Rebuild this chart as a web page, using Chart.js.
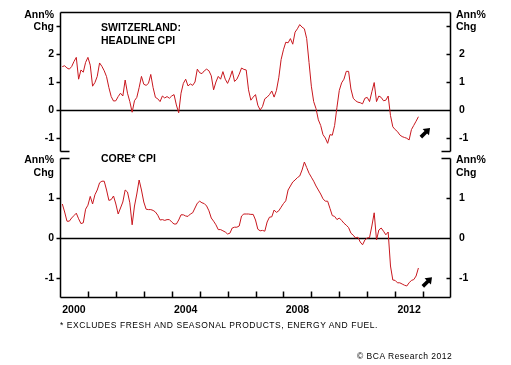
<!DOCTYPE html>
<html>
<head>
<meta charset="utf-8">
<script src="https://cdn.jsdelivr.net/npm/chart.js@4.4.0/dist/chart.umd.min.js"></script>
<style>
  body { margin: 0; width: 511px; height: 365px; background: #fff; position: relative; overflow: hidden;
         font-family: "Liberation Sans", Arial, sans-serif; color: #000; }
  .wrap { position: absolute; left: 0; width: 511px; }
  #topWrap { top: 0; height: 155px; }
  #botWrap { top: 155px; height: 210px; }
  .lbl { position: absolute; font-weight: bold; font-size: 10.5px; line-height: 12px; white-space: nowrap; }
  .l { right: 457px; text-align: right; }
  .r { left: 456px; }
  .note { position: absolute; font-size: 8.5px; line-height: 10px; white-space: nowrap; }
</style>
</head>
<body>
<div class="wrap" id="topWrap"><canvas id="topChart"></canvas></div>
<div class="wrap" id="botWrap"><canvas id="coreChart"></canvas></div>

<div class="lbl l" style="top:8px">Ann%</div>
<div class="lbl l" style="top:19.5px">Chg</div>
<div class="lbl r" style="top:8px">Ann%</div>
<div class="lbl r" style="top:19.5px">Chg</div>
<div class="lbl" style="left:101px;top:20.5px">SWITZERLAND:</div>
<div class="lbl" style="left:101px;top:34px">HEADLINE CPI</div>

<div class="lbl l" style="top:153px">Ann%</div>
<div class="lbl l" style="top:165.5px">Chg</div>
<div class="lbl r" style="top:153px">Ann%</div>
<div class="lbl r" style="top:165.5px">Chg</div>
<div class="lbl" style="left:101px;top:152px">CORE* CPI</div>

<div class="note" style="left:60px;top:319.5px;letter-spacing:0.55px">* EXCLUDES FRESH AND SEASONAL PRODUCTS, ENERGY AND FUEL.</div>
<div class="note" style="left:357px;top:350.5px;letter-spacing:0.5px">© BCA Research 2012</div>

<script>
// monthly, Jan 2000 .. Oct 2012, annual % change
const headline = [
  1.55, 1.58, 1.5, 1.46, 1.55, 1.73, 1.88, 1.1, 1.43, 1.35, 1.7, 1.88,
  1.6, 0.85, 0.98, 1.2, 1.68, 1.56, 1.4, 1.19, 0.8, 0.48, 0.32, 0.33,
  0.48, 0.6, 0.5, 1.07, 0.6, 0.3, -0.08, 0.33, 0.45, 0.8, 1.2, 0.92,
  0.88, 0.95, 1.27, 0.8, 0.45, 0.4, 0.3, 0.5, 0.43, 0.48, 0.42, 0.5,
  0.55, 0.18, -0.1, 0.6, 0.95, 1.1, 0.86, 0.93, 0.88, 1.0, 1.46, 1.33,
  1.3, 1.4, 1.46, 1.4, 1.22, 0.72, 1.0, 1.2, 1.1, 1.37, 1.1, 0.95,
  1.15, 1.4, 1.02, 1.1, 1.28, 1.5, 1.45, 1.43, 0.72, 0.35, 0.46, 0.55,
  0.17, 0.0, 0.12, 0.4, 0.46, 0.55, 0.68, 0.46, 0.7, 1.15, 1.8, 2.15,
  2.42, 2.4, 2.55, 2.35, 2.78, 2.9, 3.05, 2.96, 2.9, 2.55, 1.7, 0.85,
  0.3, 0.05, -0.35, -0.55, -0.88, -1.0, -1.19, -0.88, -0.9, -0.55, 0.1, 0.7,
  0.97, 1.1, 1.38, 1.38, 0.75, 0.42, 0.33, 0.28, 0.26, 0.22, 0.42, 0.45,
  0.3, 0.65, 0.98, 0.3, 0.5, 0.45, 0.33, 0.35, 0.5, -0.2, -0.6, -0.7,
  -0.77, -0.89, -0.95, -0.98, -1.01, -1.07, -0.7, -0.55, -0.4, -0.24
];
const core = [
  0.85, 0.65, 0.42, 0.42, 0.5, 0.56, 0.62, 0.48, 0.36, 0.38, 0.72, 0.82,
  1.04, 0.85, 1.08, 1.2, 1.38, 1.42, 1.42, 1.2, 0.94, 0.96, 1.05, 0.85,
  0.6, 0.75, 0.9, 1.2, 1.15, 0.88, 0.33, 0.8, 1.1, 1.45, 1.2, 0.9,
  0.72, 0.71, 0.71, 0.69, 0.65, 0.57, 0.45, 0.46, 0.44, 0.46, 0.46, 0.4,
  0.35, 0.35, 0.45, 0.58, 0.58, 0.55, 0.54, 0.6, 0.63, 0.75, 0.87, 0.92,
  0.88, 0.86, 0.8, 0.68, 0.5, 0.42, 0.33, 0.21, 0.21, 0.18, 0.15, 0.1,
  0.12, 0.25, 0.27, 0.27, 0.3, 0.55, 0.6, 0.6, 0.6, 0.59, 0.59, 0.45,
  0.22, 0.18, 0.19, 0.17, 0.4, 0.52, 0.53, 0.7, 0.64, 0.68, 0.77, 0.86,
  0.93, 1.2, 1.3, 1.4, 1.45, 1.51, 1.55, 1.7, 1.9, 1.76, 1.62, 1.52,
  1.42, 1.3, 1.2, 1.1, 0.98, 0.92, 0.92, 0.74, 0.56, 0.54, 0.46, 0.5,
  0.44, 0.37, 0.32, 0.26, 0.12, 0.07, 0.0, 0.02, -0.1, -0.17, -0.05, 0.0,
  0.01, 0.3, 0.63, -0.05, 0.2, 0.25, 0.17, 0.08, 0.15, -0.7, -1.05, -1.06,
  -1.12, -1.12, -1.15, -1.18, -1.2, -1.12, -1.06, -1.04, -0.95, -0.75
];
const startYear = 2000;
const months = headline.map((_, i) => startYear + (i + 1) / 12);
const yearTicks = [2001, 2002, 2003, 2004, 2005, 2006, 2007, 2008, 2009, 2010, 2011, 2012, 2013];
const yearLabels = [2000, 2004, 2008, 2012];
const headlineTicks = [-1, 0, 1, 2, 3];
const headlineLabels = [-1, 0, 1, 2];
const coreTicks = [-1, 0, 1];

const tickFont = { family: "Liberation Sans", weight: "bold", size: 10.5 };

const frame = {
  id: "frame",
  beforeDatasetsDraw(chart, args, opts) {
    const { ctx, chartArea: a, scales } = chart;
    const L = a.left + 0.5, R = a.right - 0.5;
    const T = a.top + 0.5, B = a.bottom - 0.5;
    ctx.save();
    ctx.strokeStyle = "#000";
    ctx.lineWidth = 1.5;
    ctx.beginPath();
    const z = Math.round(scales.y.getPixelForValue(0)) + 0.5;
    ctx.moveTo(a.left, z); ctx.lineTo(a.right, z);
    ctx.moveTo(L, T); ctx.lineTo(L, B);
    ctx.moveTo(R, T); ctx.lineTo(R, B);
    if (opts.top) {
      ctx.moveTo(L, T); ctx.lineTo(R, T);
      ctx.moveTo(L, B); ctx.lineTo(L + 9, B);
      ctx.moveTo(R, B); ctx.lineTo(R - 9, B);
    } else {
      ctx.moveTo(L, B); ctx.lineTo(R, B);
      ctx.moveTo(L, T); ctx.lineTo(L + 9, T);
      ctx.moveTo(R, T); ctx.lineTo(R - 9, T);
      yearTicks.forEach(yr => {
        const px = Math.round(scales.x.getPixelForValue(yr)) + 0.5;
        ctx.moveTo(px, B - 6); ctx.lineTo(px, B);
      });
    }
    opts.ticks.forEach(v => {
      const p = Math.round(scales.y.getPixelForValue(v)) + 0.5;
      ctx.moveTo(L - 4, p); ctx.lineTo(L, p);
      ctx.moveTo(R - 4, p); ctx.lineTo(R, p);
    });
    ctx.stroke();
    ctx.restore();
  },
  afterDraw(chart, args, opts) {
    const { ctx, scales } = chart;
    const tx = scales.x.getPixelForValue(opts.arrow[0]);
    const ty = scales.y.getPixelForValue(opts.arrow[1]);
    const pts = [[0, 0], [6, 4.5], [6, 1.8], [13, 1.8], [13, -1.8], [6, -1.8], [6, -4.5]];
    const k = Math.SQRT1_2;
    ctx.save();
    ctx.fillStyle = "#000";
    ctx.beginPath();
    pts.forEach(([t, u], i) => {
      const px = tx + (-t + u) * k, py = ty + (t + u) * k;
      if (i === 0) ctx.moveTo(px, py); else ctx.lineTo(px, py);
    });
    ctx.closePath();
    ctx.fill();
    ctx.restore();
  }
};

function makePanel(id, values, yMin, yMax, ticks, labels, isTop, arrow) {
  const yAxis = (position, pad) => ({
    type: "linear",
    position: position,
    min: yMin,
    max: yMax,
    grid: { display: false, drawTicks: false },
    border: { display: false },
    afterBuildTicks: s => { s.ticks = ticks.map(v => ({ value: v })); },
    afterFit: s => { s.width = 60; s.paddingTop = 0; s.paddingBottom = 0; },
    ticks: {
      padding: pad,
      color: "#000",
      font: tickFont,
      callback: v => (labels.includes(v) ? String(v) : "")
    }
  });
  return new Chart(document.getElementById(id), {
    type: "line",
    data: {
      datasets: [{
        data: values.map((v, i) => ({ x: months[i], y: v })),
        borderColor: "#c8171e",
        borderWidth: 1,
        pointRadius: 0,
        tension: 0,
        fill: false
      }]
    },
    options: {
      responsive: true,
      maintainAspectRatio: false,
      animation: false,
      layout: { padding: isTop ? { top: 12, bottom: 3 } : { top: 3 } },
      plugins: {
        legend: { display: false },
        tooltip: { enabled: false },
        frame: { top: isTop, ticks: ticks, arrow: arrow }
      },
      scales: {
        x: {
          type: "linear",
          min: 2000,
          max: 2014,
          display: !isTop,
          grid: { display: false, drawTicks: false },
          border: { display: false },
          afterBuildTicks: s => { s.ticks = yearLabels.map(y => ({ value: y + 0.5 })); },
          afterFit: s => { s.height = isTop ? 0 : 67; s.paddingLeft = 0; s.paddingRight = 0; },
          ticks: {
            padding: 6,
            color: "#000",
            font: tickFont,
            autoSkip: false,
            maxRotation: 0,
            callback: v => String(Math.floor(v))
          }
        },
        y: yAxis("left", 6),
        y2: yAxis("right", 8)
      }
    },
    plugins: [frame]
  });
}

makePanel("topChart", headline, -1.5, 3.5, headlineTicks, headlineLabels, true, [2013.25, -0.64]);
makePanel("coreChart", core, -1.5, 2, coreTicks, coreTicks, false, [2013.32, -0.98]);
</script>
</body>
</html>
